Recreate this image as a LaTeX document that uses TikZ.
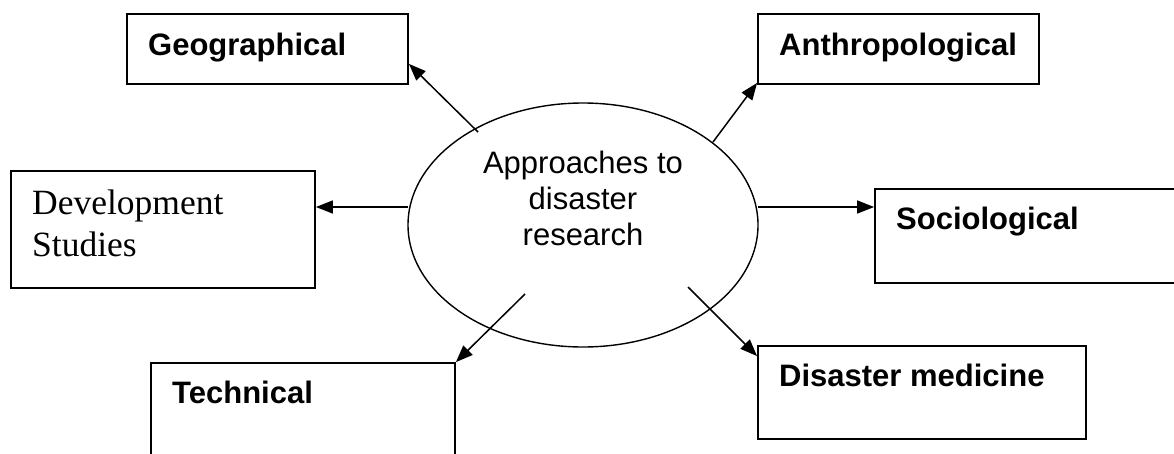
\documentclass[tikz,border=0pt]{standalone}
\usepackage{fontspec}
\setmainfont{Liberation Serif}
\newfontfamily\arialfont{Liberation Sans}
\usetikzlibrary{arrows.meta,shapes.geometric,calc}
\tikzset{
  boxnode/.style={draw, line width=1.8pt, inner sep=0pt, rectangle},
  labelsans/.style={font=\arialfont\bfseries\fontsize{31}{36}\selectfont, inner sep=0pt, anchor=base west},
  labelserif/.style={font=\fontsize{35.5}{42}\selectfont, inner sep=0pt, anchor=base west},
  centertext/.style={font=\arialfont\fontsize{31}{36}\selectfont, inner sep=0pt, anchor=base},
  conn/.style={line width=1.5pt, -{Triangle[length=17pt,width=13pt]}}
}
\begin{document}
\begin{tikzpicture}[x=1pt,y=-1pt]
\useasboundingbox (0,0) rectangle (1174,453);
\clip (0,0) rectangle (1174,453);
% central ellipse
\node[draw, ellipse, line width=1.4pt, minimum width=350pt, minimum height=244pt, inner sep=0pt] (hub) at (583,225) {};
\node[centertext] (c1) at (583,173) {Approaches to};
\node[centertext] (c2) at (583,209) {disaster};
\node[centertext] (c3) at (583,245) {research};
% boxes
\node[boxnode, minimum width=281pt, minimum height=70pt] (geo) at (267.5,49) {};
\node[labelsans] (geot) at (148,55) {Geographical};
\node[boxnode, minimum width=281pt, minimum height=70pt] (anthro) at (898.5,49) {};
\node[labelsans] (anthrot) at (779,55) {Anthropological};
\node[boxnode, minimum width=304pt, minimum height=117pt] (dev) at (163,229.5) {};
\node[labelserif] (devt1) at (32,214) {Development};
\node[labelserif] (devt2) at (32,256) {Studies};
\node[boxnode, minimum width=330pt, minimum height=94pt] (socio) at (1040,236) {};
\node[labelsans] (sociot) at (896,229) {Sociological};
\node[boxnode, minimum width=328pt, minimum height=93pt] (med) at (922,392.5) {};
\node[labelsans] (medt) at (779,386) {Disaster medicine};
\node[boxnode, minimum width=304pt, minimum height=117pt] (tech) at (303,421.5) {};
\node[labelsans] (techt) at (172,403) {Technical};
% free ends inside the ellipse
\coordinate (g0) at (478,132);
\coordinate (a0) at (713,142);
\coordinate (d0) at (408,207);
\coordinate (s0) at (758,207);
\coordinate (t0) at (525,294);
\coordinate (m0) at (688,287);
% connectors
\draw[conn] (g0) -- ($(geo.south east)+(0,-21)$);
\draw[conn] (a0) -- ($(anthro.south west)+(0,-2)$);
\draw[conn] (d0) -- (dev.east |- d0);
\draw[conn] (s0) -- (socio.west |- s0);
\draw[conn] (t0) -- (tech.north east);
\draw[conn] (m0) -- ($(med.north west)+(0,11)$);
\end{tikzpicture}
\end{document}
